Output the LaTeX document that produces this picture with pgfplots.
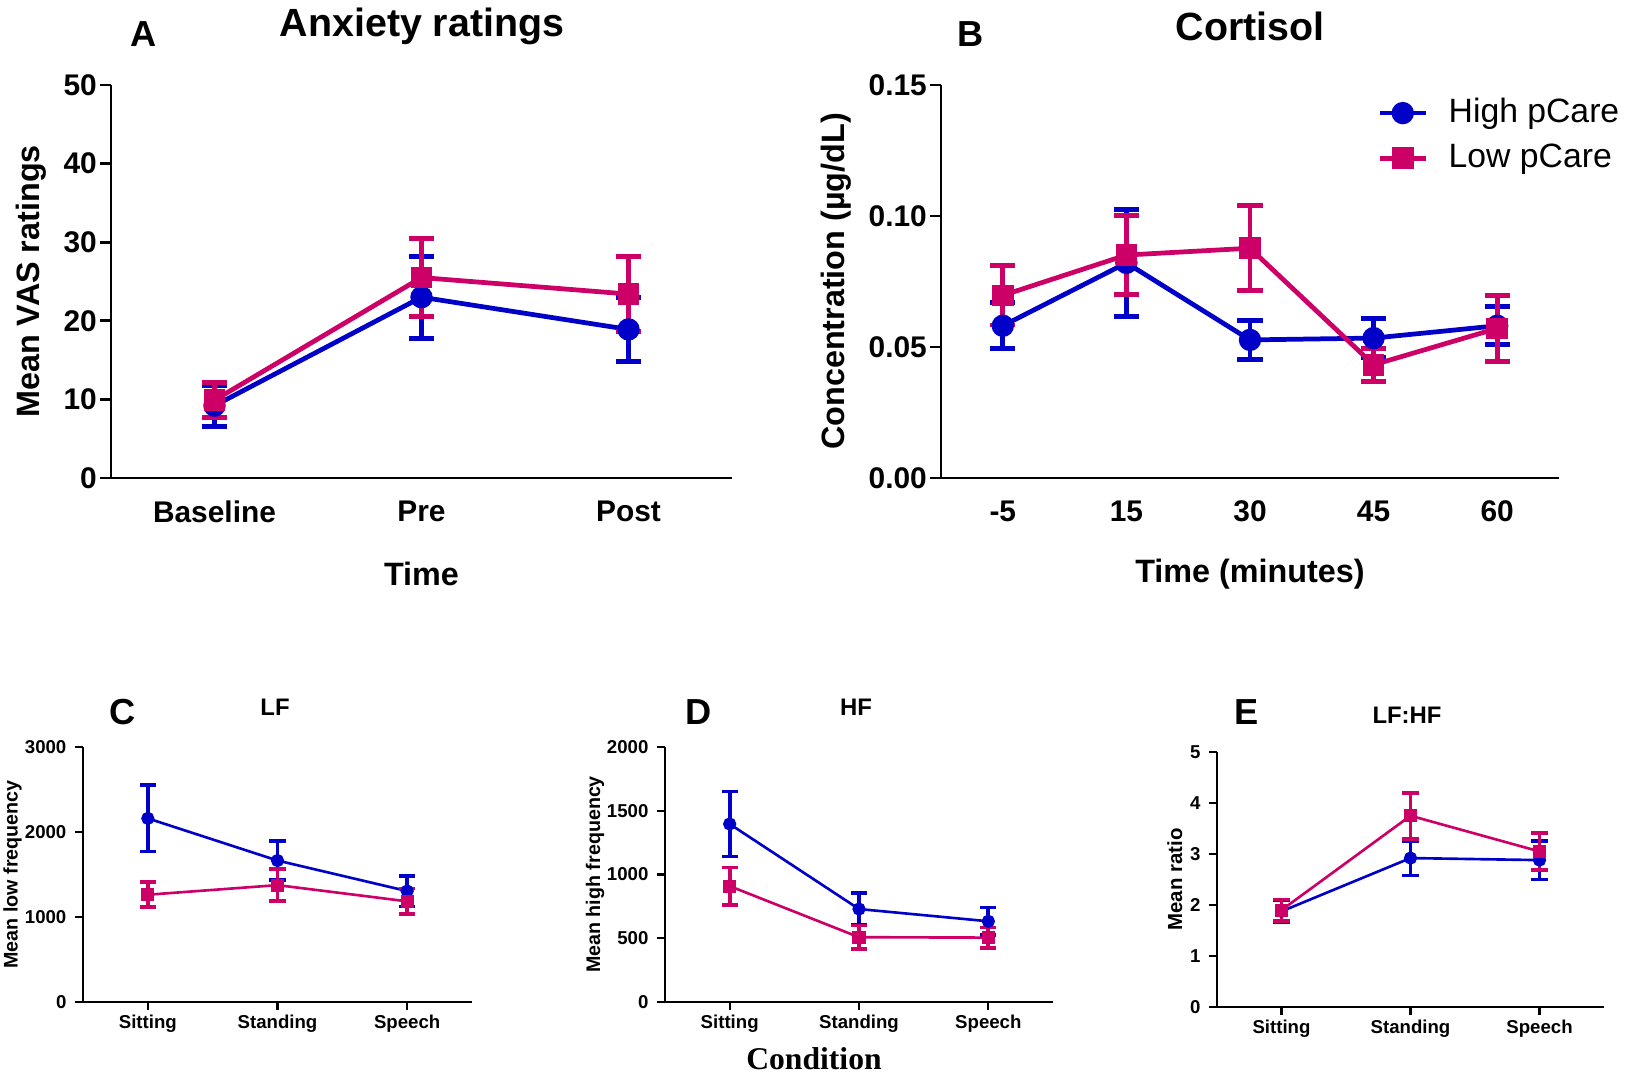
\documentclass[border=0pt]{standalone}
\usepackage{fontspec}
\setmainfont{Liberation Sans}
\newfontfamily\seriffont{Liberation Serif}
\usepackage{pgfplots}
\pgfplotsset{compat=1.18}
\definecolor{hblue}{RGB}{0,0,200}
\definecolor{lpink}{RGB}{204,0,102}

\pgfplotsset{
  prism/.style={
    scale only axis,
    axis x line*=bottom, axis y line*=left,
    axis line style={-, line width=0.8pt},
    tick align=outside,
    tick style={black, line width=0.8pt},
    /pgf/number format/assume math mode=true,
    /pgf/number format/1000 sep={},
    xtick=data,
    clip=false,
  },
  big/.style={
    prism,
    width=6.21cm, height=3.93cm,
    major tick length=3pt,
    x tick style={draw=none},
    ticklabel style={font=\fontsize{8.5}{10}\selectfont\bfseries},
    xticklabel style={yshift=0pt},
    yticklabel style={xshift=2.5pt},
  },
  small/.style={
    prism,
    width=3.89cm, height=2.55cm,
    major tick length=2.2pt,
    axis line style={-, line width=0.6pt},
    tick style={black, line width=0.6pt},
    ticklabel style={font=\fontsize{5.3}{6}\selectfont\bfseries},
    xticklabel style={yshift=2pt},
    yticklabel style={xshift=1pt},
    xmin=-0.5, xmax=2.5, ymin=0,
    xticklabels={Sitting,Standing,Speech},
  },
  hb/.style={color=hblue, line width=1.35pt, mark=*, mark size=2.5pt,
    error bars/.cd, y dir=both, y explicit,
    error bar style={line width=1.4pt, hblue},
    error mark options={rotate=90, mark size=3.6pt, line width=1.4pt, hblue}},
  lp/.style={color=lpink, line width=1.35pt, mark=square*, mark size=2.4pt,
    error bars/.cd, y dir=both, y explicit,
    error bar style={line width=1.4pt, lpink},
    error mark options={rotate=90, mark size=3.6pt, line width=1.4pt, lpink}},
  hbs/.style={color=hblue, line width=0.75pt, mark=*, mark size=1.5pt,
    error bars/.cd, y dir=both, y explicit,
    error bar style={line width=1.05pt, hblue},
    error mark options={rotate=90, mark size=2.3pt, line width=1.05pt, hblue}},
  lps/.style={color=lpink, line width=0.75pt, mark=square*, mark size=1.5pt,
    error bars/.cd, y dir=both, y explicit,
    error bar style={line width=1.05pt, lpink},
    error mark options={rotate=90, mark size=2.3pt, line width=1.05pt, lpink}},
}

\begin{document}
\begin{tikzpicture}
\path[use as bounding box] (0,0) rectangle (16.34,10.74);

% ---------------- Panel A ----------------
\begin{axis}[big, at={(1.11cm,5.96cm)}, anchor=south west,
  xmin=-0.5, xmax=2.5, ymin=0, ymax=50, ytick={0,10,20,30,40,50},
  xticklabels={Baseline,Pre,Post},
  ylabel={Mean VAS ratings}, xlabel={Time},
  ylabel style={at={(axis description cs:-0.129,0.5)}, anchor=center, font=\fontsize{9.2}{11}\selectfont\bfseries},
  xlabel style={at={(axis description cs:0.5,-0.244)}, anchor=center, font=\fontsize{9.2}{11}\selectfont\bfseries},
]
\addplot[hb] coordinates {(0,9.2) +- (0,2.6) (1,23.0) +- (0,5.2) (2,18.9) +- (0,4.1)};
\addplot[lp] coordinates {(0,9.9) +- (0,2.2) (1,25.5) +- (0,5.0) (2,23.4) +- (0,4.8)};
\end{axis}

% ---------------- Panel B ----------------
\begin{axis}[big, at={(9.41cm,5.96cm)}, anchor=south west, width=6.18cm,
  xmin=-0.5, xmax=4.5, ymin=0, ymax=0.15, ytick={0,0.05,0.1,0.15},
  yticklabel style={/pgf/number format/.cd, fixed, fixed zerofill, precision=2},
  xticklabels={-5,15,30,45,60},
  ylabel={Concentration (µg/dL)}, xlabel={Time (minutes)},
  ylabel style={at={(axis description cs:-0.170,0.5)}, anchor=center, font=\fontsize{9.2}{11}\selectfont\bfseries},
  xlabel style={at={(axis description cs:0.5,-0.244)}, anchor=center, font=\fontsize{9.2}{11}\selectfont\bfseries},
  legend style={draw=none, fill=none, at={(0.705,0.977)}, anchor=north west,
    font=\fontsize{9.6}{11}\selectfont, row sep=2.5pt, inner sep=0pt,
    nodes={inner sep=1pt}},
  legend cell align=left,
  legend image code/.code={\draw[#1, mark=none, line width=1.35pt] (0cm,0cm) -- (0.46cm,0cm);
    \draw[#1, only marks] plot coordinates {(0.23cm,0cm)};
    \path (0.63cm,0cm);},
]
\addplot[hb] coordinates {(0,0.0581) +- (0,0.0088) (1,0.0821) +- (0,0.0205) (2,0.0527) +- (0,0.0075) (3,0.0534) +- (0,0.0073) (4,0.0581) +- (0,0.0072)};
\addlegendentry{High pCare}
\addplot[lp] coordinates {(0,0.0697) +- (0,0.0113) (1,0.0851) +- (0,0.0152) (2,0.0877) +- (0,0.0162) (3,0.0432) +- (0,0.0062) (4,0.0571) +- (0,0.0125)};
\addlegendentry{Low pCare}
\end{axis}

% ---------------- Panel C ----------------
\begin{axis}[small, at={(0.83cm,0.72cm)}, anchor=south west,
  ymax=3000, ytick={0,1000,2000,3000},
  ylabel={Mean low frequency},
  ylabel style={at={(axis description cs:-0.181,0.5)}, anchor=center, font=\fontsize{5.6}{6.5}\selectfont\bfseries},
]
\addplot[hbs] coordinates {(0,2160) +- (0,390) (1,1664) +- (0,227) (2,1305) +- (0,180)};
\addplot[lps] coordinates {(0,1262) +- (0,147) (1,1375) +- (0,190) (2,1184) +- (0,152)};
\end{axis}

% ---------------- Panel D ----------------
\begin{axis}[small, at={(6.65cm,0.72cm)}, anchor=south west, width=3.88cm,
  ymax=2000, ytick={0,500,1000,1500,2000},
  ylabel={Mean high frequency},
  ylabel style={at={(axis description cs:-0.180,0.5)}, anchor=center, font=\fontsize{5.6}{6.5}\selectfont\bfseries},
]
\addplot[hbs] coordinates {(0,1396) +- (0,256) (1,729) +- (0,127) (2,633) +- (0,107)};
\addplot[lps] coordinates {(0,909) +- (0,147) (1,508) +- (0,92) (2,505) +- (0,80)};
\end{axis}

% ---------------- Panel E ----------------
\begin{axis}[small, at={(12.17cm,0.67cm)}, anchor=south west, width=3.87cm,
  ymax=5, ytick={0,1,2,3,4,5},
  ylabel={Mean ratio},
  ylabel style={at={(axis description cs:-0.109,0.5)}, anchor=center, font=\fontsize{5.8}{6.5}\selectfont\bfseries},
]
\addplot[hbs] coordinates {(0,1.875) +- (0,0.22) (1,2.92) +- (0,0.34) (2,2.88) +- (0,0.38)};
\addplot[lps] coordinates {(0,1.90) +- (0,0.21) (1,3.75) +- (0,0.45) (2,3.05) +- (0,0.36)};
\end{axis}

% ---------------- Titles and panel letters ----------------
\node[font=\fontsize{11.2}{13}\selectfont\bfseries] at (4.22,10.48) {Anxiety ratings};
\node[font=\fontsize{11.2}{13}\selectfont\bfseries] at (12.50,10.48) {Cortisol};
\node[font=\fontsize{10.3}{12}\selectfont\bfseries] at (1.44,10.40) {A};
\node[font=\fontsize{10.3}{12}\selectfont\bfseries] at (9.71,10.40) {B};
\node[font=\fontsize{10.3}{12}\selectfont\bfseries] at (1.23,3.62) {C};
\node[font=\fontsize{10.3}{12}\selectfont\bfseries] at (6.99,3.62) {D};
\node[font=\fontsize{10.3}{12}\selectfont\bfseries] at (12.47,3.62) {E};
\node[font=\fontsize{6.8}{8}\selectfont\bfseries] at (2.75,3.67) {LF};
\node[font=\fontsize{6.8}{8}\selectfont\bfseries] at (8.56,3.67) {HF};
\node[font=\fontsize{6.8}{8}\selectfont\bfseries] at (14.07,3.59) {LF:HF};
\node[font=\fontsize{9}{10}\selectfont\bfseries\seriffont] at (8.14,0.15) {Condition};
\end{tikzpicture}
\end{document}
